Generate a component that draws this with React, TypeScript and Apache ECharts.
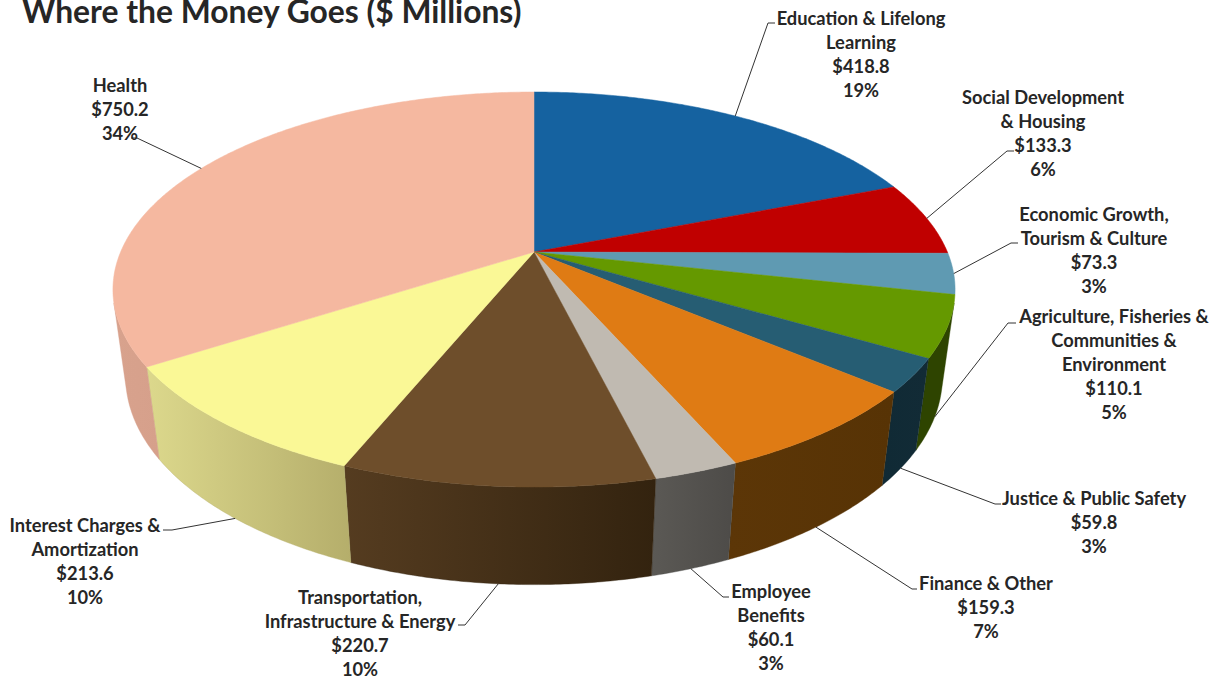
import React, { useEffect, useRef } from "react";
import * as echarts from "echarts";

// Budget envelopes, clockwise from twelve o'clock.
const categories = [
  ["Education & Lifelong", "Learning"],
  ["Social Development", "& Housing"],
  ["Economic Growth,", "Tourism & Culture"],
  ["Agriculture, Fisheries &", "Communities &", "Environment"],
  ["Justice & Public Safety"],
  ["Finance & Other"],
  ["Employee", "Benefits"],
  ["Transportation,", "Infrastructure & Energy"],
  ["Interest Charges &", "Amortization"],
  ["Health"],
];
const amounts = [418.8, 133.3, 73.3, 110.1, 59.8, 159.3, 60.1, 220.7, 213.6, 750.2];

const topColors = ["#1562A0", "#C00000", "#5F9AB2", "#659900", "#265D73", "#DF7B14", "#C0BAB1", "#6E4E2B", "#FAF896", "#F5B8A0"];
const wallLeft = ["#0F4570", "#860000", "#436C7D", "#2E4400", "#102A35", "#5C3607", "#5B5955", "#553C20", "#DCD88C", "#D8A28D"];
const wallRight = ["#0F4570", "#860000", "#436C7D", "#2E4400", "#122B36", "#573305", "#4D4B48", "#33230F", "#B5AE6B", "#D6A08B"];

// Label layout: centre x, first line y, then the leader's elbow and end.
const labelCenterX = [861, 1043, 1094, 1114, 1094, 986, 771, 360, 85, 120];
const labelTopY = [18, 97, 214, 316, 498, 583, 591, 597, 525, 85];
const leaderElbow = [[768, 23], [1007, 151], [1011, 243], [1008, 323], [995, 504], [912, 589], [723, 597], [465, 625], [172, 530], [137, 138]];
const leaderEnd = [[775, 23], [1014, 151], [1018, 243], [1016, 323], [1001, 504], [917, 589], [729, 597], [458, 625], [163, 530], [131, 138]];
const leaderOnBase = [false, false, false, true, true, true, true, true, true, false];

// Perspective model of the disc: the upper rim sits at depth 0, the lower at depth 1.
const CX = 534;
const CY = 252;
const RX = 413.4;
const RY = 190.4;
const TILT = 0.19;
const FAR = 0.03;
const DROP = 89;
const STEP = Math.PI / 360;
const LINE = 24;
const FONT = "Lato, Carlito, sans-serif";
const INK = "#262626";

const total = amounts.reduce((a, b) => a + b, 0);
const starts: number[] = [];
amounts.reduce((acc, v, i) => {
  starts[i] = acc;
  return acc + v;
}, 0);
const angleOf = (v: number) => (v / total) * Math.PI * 2;

function rim(theta: number, depth: number): number[] {
  const x = Math.sin(theta);
  const y = -Math.cos(theta);
  const w = 1 + FAR * depth - TILT * y;
  return [CX + (RX * x) / w, CY + (RY * y + DROP * depth) / w];
}

function arc(a0: number, a1: number, depth: number): number[][] {
  const pts: number[][] = [];
  const n = Math.max(2, Math.ceil((a1 - a0) / STEP));
  for (let i = 0; i <= n; i++) pts.push(rim(a0 + ((a1 - a0) * i) / n, depth));
  return pts;
}

function sliceRange(i: number, value: number): [number, number] {
  const a0 = angleOf(starts[i]);
  return [a0, a0 + angleOf(value)];
}

// The wall faces the viewer where the rim's tangent and the drop line turn the same way.
function facesViewer(theta: number): boolean {
  const a = rim(theta, 0);
  const b = rim(theta + 1e-4, 0);
  const c = rim(theta, 1);
  return (b[0] - a[0]) * (c[1] - a[1]) - (b[1] - a[1]) * (c[0] - a[0]) < 0;
}
function scanEdge(from: number, dir: number): number {
  let t = from;
  while (facesViewer(t + dir * 0.001)) t += dir * 0.001;
  return t;
}
const WALL_START = scanEdge(Math.PI, -1);
const WALL_END = scanEdge(Math.PI, 1);

const renderWall = (params: any, api: any) => {
  const i = params.dataIndex;
  const [s0, s1] = sliceRange(i, api.value(0));
  const a0 = Math.max(s0, WALL_START);
  const a1 = Math.min(s1, WALL_END);
  if (a1 <= a0) return null;
  const points = [...arc(a0, a1, 0), ...arc(a0, a1, 1).reverse()];
  return {
    type: "polygon",
    shape: { points },
    style: {
      fill: new echarts.graphic.LinearGradient(0, 0, 1, 0, [
        { offset: 0, color: wallLeft[i] },
        { offset: 1, color: wallRight[i] },
      ]),
      stroke: wallRight[i],
      lineWidth: 0.4,
    },
  };
};

const renderTop = (params: any, api: any) => {
  const i = params.dataIndex;
  const [a0, a1] = sliceRange(i, api.value(0));
  return {
    type: "polygon",
    shape: { points: [[CX, CY], ...arc(a0, a1, 0)] },
    style: { fill: topColors[i], stroke: topColors[i], lineWidth: 0.5 },
  };
};

const renderLabel = (params: any, api: any) => {
  const i = params.dataIndex;
  const value = api.value(0);
  const [a0, a1] = sliceRange(i, value);
  const anchor = rim((a0 + a1) / 2, leaderOnBase[i] ? 1 : 0);
  const lines = [...categories[i], `$${value.toFixed(1)}`, `${Math.round((value / total) * 100)}%`];
  return {
    type: "group",
    children: [
      {
        type: "polyline",
        shape: { points: [anchor, leaderElbow[i], leaderEnd[i]] },
        style: { stroke: "#333333", lineWidth: 1, fill: "none" },
      },
      ...lines.map((text, k) => ({
        type: "text",
        x: labelCenterX[i],
        y: labelTopY[i] + k * LINE,
        style: {
          text,
          fill: INK,
          font: `bold 18.3px ${FONT}`,
          align: "center",
          verticalAlign: "middle",
        },
      })),
    ],
  };
};

export default function App() {
  const ref = useRef<HTMLDivElement>(null);
  useEffect(() => {
    const chart = echarts.init(ref.current!, undefined, { renderer: "svg" });
    const data = amounts.map((v) => [v]);
    chart.setOption({
      animation: false,
      backgroundColor: "#ffffff",
      title: {
        text: "Where the Money Goes ($ Millions)",
        left: 17,
        top: -10,
        textStyle: { fontFamily: FONT, fontWeight: "bold", fontSize: 31.8, color: INK },
      },
      series: [
        { type: "custom", coordinateSystem: "none", silent: true, z: 1, data, renderItem: renderWall },
        { type: "custom", coordinateSystem: "none", silent: true, z: 2, data, renderItem: renderTop },
        { type: "custom", coordinateSystem: "none", silent: true, z: 3, data, renderItem: renderLabel },
      ],
    });
    return () => chart.dispose();
  }, []);
  return <div ref={ref} style={{ position: "absolute", left: 0, top: 0, width: 1220, height: 680 }} />;
}
